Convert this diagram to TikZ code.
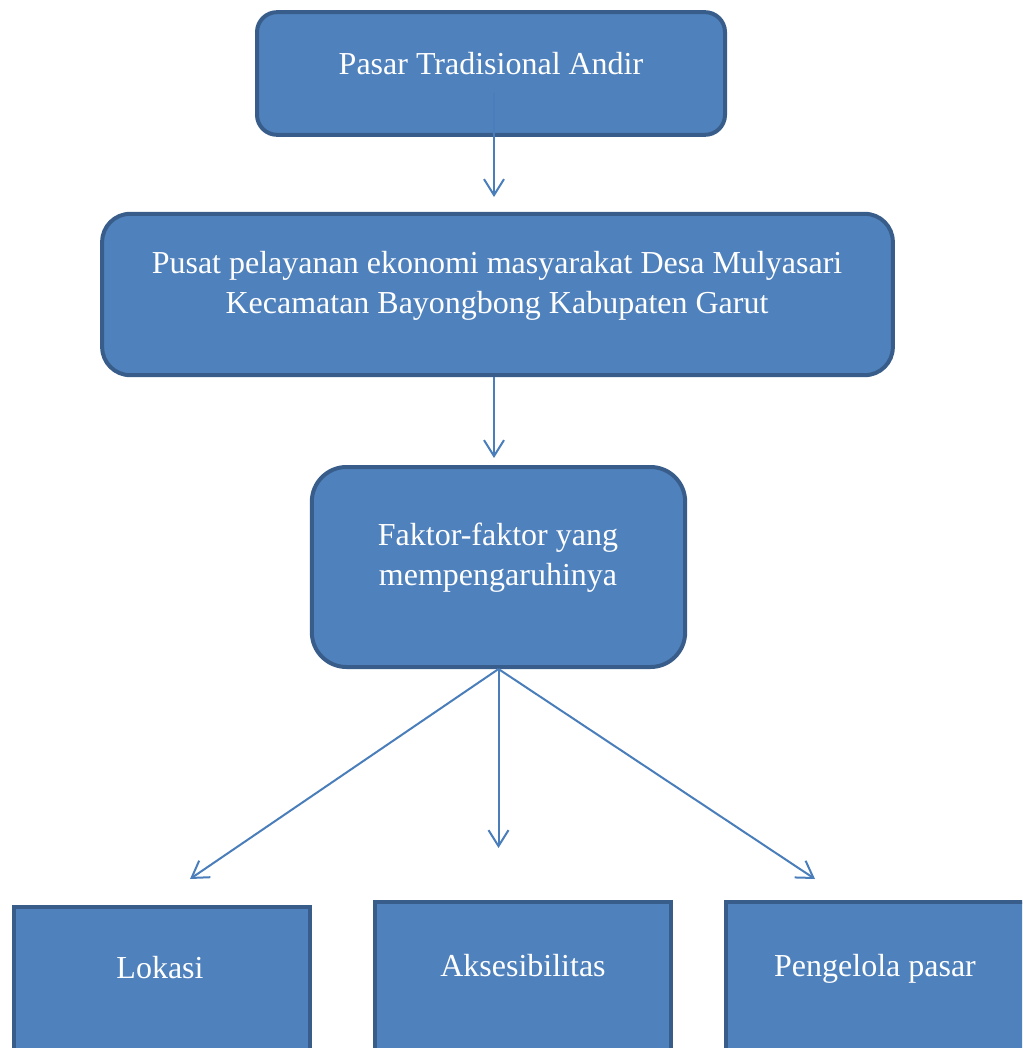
\documentclass[tikz,border=0pt]{standalone}
\usepackage{fontspec}
\setmainfont{Liberation Serif}
\usepackage{tikz}
\usetikzlibrary{arrows.meta}
\definecolor{boxfill}{HTML}{4F81BD}
\definecolor{boxline}{HTML}{385D8A}
\definecolor{linkcol}{HTML}{4A7EBB}
\begin{document}
\begin{tikzpicture}
    [   x = 0.75pt
    ,   y = -0.75pt
    ,   > = {Straight Barb[length=12pt,width=15pt,line width=1.5pt]}
    ,   topbox/.style =
        {   draw = boxline
        ,   fill = boxfill
        ,   line width = 3pt
        ,   rounded corners = #1
        ,   inner sep = 0mm
        }
    ,   leafbox/.style =
        {   draw = boxline
        ,   fill = boxfill
        ,   line width = 3pt
        ,   inner sep = 0mm
        ,   minimum width = 222pt
        ,   minimum height = 148pt
        }
    ,   label/.style =
        {   text = white
        ,   align = center
        ,   font = \fontsize{24}{30}\selectfont
        ,   inner sep = 0mm
        }
    ,   link/.style =
        {   draw = linkcol
        ,   line width = 1.5pt
        ,   ->
        }
    ]
    \useasboundingbox (0,0) rectangle (1022,1048);
    \clip (0,0) rectangle (1022,1048);

    % boxes
    \node[topbox=15pt, minimum width=351pt, minimum height=92pt] (B1) at (491,73.5) {};
    \node[topbox=21pt, minimum width=593pt, minimum height=121pt] (B2) at (497.5,294.5) {};
    \node[topbox=26pt, minimum width=280pt, minimum height=150pt] (B3) at (498.5,567) {};
    \node[leafbox] (L1) at (162,1006) {};
    \node[leafbox] (L2) at (523,1001) {};
    \node[leafbox, minimum width=258pt] (L3) at (898,1001) {};

    % texts
    \node[label] (T1) at (491,64) {Pasar Tradisional Andir};
    \node[label] (T2) at (497,285.5)
        {Pusat pelayanan ekonomi masyarakat Desa Mulyasari\\Kecamatan Bayongbong Kabupaten Garut};
    \node[label] (T3) at (498,558) {Faktor-faktor yang\\mempengaruhinya};
    \node[label] (T4) at (160,968) {Lokasi};
    \node[label] (T5) at (523,966) {Aksesibilitas};
    \node[label] (T6) at (875,969) {Pengelola pasar};

    % arrows
    \coordinate (A0) at (494,93);
    \coordinate (A1) at (494,197);
    \coordinate (A2) at (494,458);
    \coordinate (C1) at (190,879);
    \coordinate (C2) at (498.5,848);
    \coordinate (C3) at (815,879);
    \draw[link] (A0) to (A1);
    \draw[link] (B2.south -| A2) to (A2);
    \foreach\x in {1,2,3}
    {   \draw[link] (B3.south) to (C\x);
    }

\end{tikzpicture}
\end{document}
